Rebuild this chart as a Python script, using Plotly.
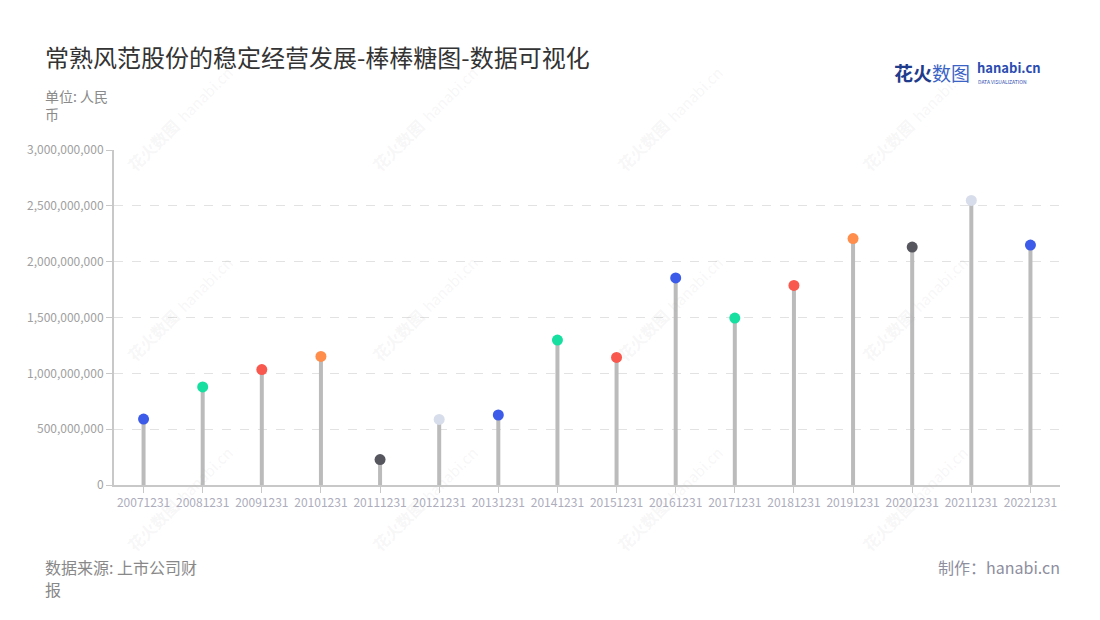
import plotly.graph_objects as go

categories = ["20071231", "20081231", "20091231", "20101231", "20111231", "20121231",
              "20131231", "20141231", "20151231", "20161231", "20171231", "20181231",
              "20191231", "20201231", "20211231", "20221231"]
values = [590e6, 878e6, 1034e6, 1151e6, 228e6, 587e6, 627e6, 1298e6, 1142e6, 1854e6,
          1495e6, 1787e6, 2207e6, 2131e6, 2548e6, 2149e6]
dot_colors = ["#3C5BE8", "#17DF9F", "#F9584E", "#FF8D4C", "#56565F", "#D7DDEA",
              "#3C5BE8", "#17DF9F", "#F9584E", "#3C5BE8", "#17DF9F", "#F9584E",
              "#FF8D4C", "#56565F", "#D7DDEA", "#3C5BE8"]
y_ticks = [0, 500e6, 1000e6, 1500e6, 2000e6, 2500e6, 3000e6]
y_tick_labels = ["0", "500,000,000", "1,000,000,000", "1,500,000,000", "2,000,000,000",
                 "2,500,000,000", "3,000,000,000"]

FONT = "Noto Sans CJK SC, Noto Sans, sans-serif"

stem_x, stem_y = [], []
for c, v in zip(categories, values):
    stem_x += [c, c, None]
    stem_y += [0, v, None]

fig = go.Figure()
fig.add_trace(go.Scatter(x=stem_x, y=stem_y, mode="lines",
                         line=dict(color="#BBBBBB", width=4), hoverinfo="skip",
                         showlegend=False))
fig.add_trace(go.Scatter(x=categories, y=values, mode="markers",
                         marker=dict(color=dot_colors, size=11, line=dict(width=0)),
                         showlegend=False))

# page has an 8px body margin; shrink the figure so the plot area lands on the reference pixels
fig.update_layout(
    width=1092, height=612,
    margin=dict(l=106, r=40, t=142, b=135),
    paper_bgcolor="white", plot_bgcolor="white",
    font=dict(family=FONT),
    xaxis=dict(type="category", range=[-0.5, 15.5], showgrid=False,
               showline=True, linecolor="#C8C8C8", linewidth=2,
               ticks="outside", tickcolor="#C8C8C8", ticklen=6, tickwidth=1,
               tickfont=dict(size=12, color="#ADADBC", family=FONT)),
    yaxis=dict(range=[0, 3e9], tickvals=y_ticks, ticktext=y_tick_labels,
               showgrid=True, gridcolor="#E2E2E2", griddash="dash", gridwidth=1,
               zeroline=False, showline=True, linecolor="#C8C8C8", linewidth=2,
               ticks="outside", tickcolor="#C8C8C8", ticklen=6,
               tickfont=dict(size=12, color="#A0A0A0", family=FONT)),
    hovermode=False,
)

L, R, T, B = 114, 1060, 150, 485


def px_ann(text, x, y, size, color, xanchor="left", angle=0):
    fig.add_annotation(x=(x - L) / (R - L), y=(B - y) / (B - T), xref="paper", yref="paper",
                       text=text, showarrow=False, xanchor=xanchor, yanchor="middle",
                       align="left", textangle=angle,
                       font=dict(family=FONT, size=size, color=color))


# faint diagonal watermarks
WM = "rgba(170,170,170,0.11)"
for wx in [180, 425, 670, 915]:
    for wy in [118, 308, 498]:
        px_ann("<b>花火数图</b>", wx - 27, wy + 27, 16, WM, xanchor="center", angle=-45)
        px_ann("hanabi.cn", wx + 24, wy - 24, 15, WM, xanchor="center", angle=-45)

px_ann("常熟风范股份的稳定经营发展-棒棒糖图-数据可视化", 43, 56, 24, "#333333")
px_ann("单位: 人民<br>币", 43, 105, 14, "#8A8A8A")
px_ann("数据来源: 上市公司财", 43, 567, 16, "#888888")
px_ann("报", 43, 589, 16, "#888888")
px_ann("制作：hanabi.cn", 1062, 567, 16, "#8E8E9E", xanchor="right")
px_ann("<b><span style='color:#1F3C8C'>花火</span></b><span style='color:#3A63C5'>数图</span>",
       892, 73, 19, "#1F3C8C")
px_ann("<b>hanabi.cn</b>", 975, 68, 13, "#2A4CB0")
px_ann("DATA VISUALIZATION", 976, 81, 5, "#2A4CB0")

fig.write_html("out.html")
